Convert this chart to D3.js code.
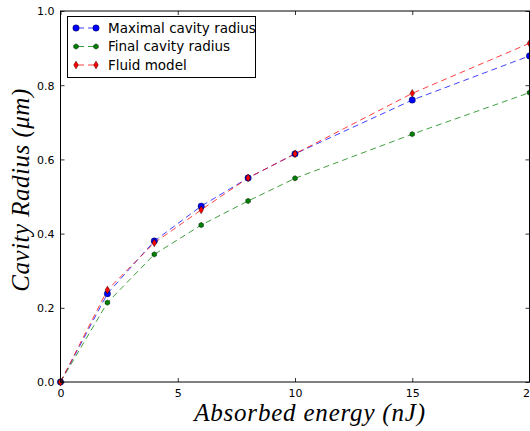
<!DOCTYPE html>
<html><head><meta charset="utf-8">
<script src="https://cdn.jsdelivr.net/npm/d3@7"></script>
<style>body{margin:0;background:#fff;overflow:hidden}</style>
</head><body>
<svg id="c" width="530" height="431"></svg>
<script>
const energy = [0, 2, 4, 6, 8, 10, 15, 20];
const maximalRadius = [0, 0.238, 0.38, 0.474, 0.55, 0.615, 0.76, 0.879];
const finalRadius = [0, 0.214, 0.344, 0.423, 0.488, 0.549, 0.668, 0.78];
const fluidModel = [0, 0.248, 0.375, 0.464, 0.55, 0.615, 0.778, 0.913];
const xTicks = [0, 5, 10, 15, 20];
const yTicks = [0, 0.2, 0.4, 0.6, 0.8, 1.0];
const seriesNames = ["Maximal cavity radius", "Final cavity radius", "Fluid model"];

const svg = d3.select("#c");
const L = 60.5, R = 529.5, T = 11, B = 382;
const x = d3.scaleLinear().domain([0, 20]).range([L, R]);
const y = d3.scaleLinear().domain([0, 1]).range([B, T]);

const series = [
  {name: seriesNames[0], vals: maximalRadius, color: "#0000ff", marker: "circle", r: 3.2},
  {name: seriesNames[1], vals: finalRadius, color: "#007f00", marker: "hex", r: 2.7},
  {name: seriesNames[2], vals: fluidModel, color: "#ff0000", marker: "diamond", r: 3.9}
];

function markerPath(type, r) {
  if (type === "circle") return d3.symbol(d3.symbolCircle, Math.PI * r * r)();
  if (type === "diamond") return `M0,${-r}L${r*0.6},0L0,${r}L${-r*0.6},0Z`;
  let p = [];
  for (let i = 0; i < 6; i++) { const a = Math.PI / 3 * i - Math.PI / 2; p.push([r * Math.cos(a), r * Math.sin(a)]); }
  return "M" + p.map(d => d.join(",")).join("L") + "Z";
}

const line = d3.line().x(d => x(d[0])).y(d => y(d[1]));
series.forEach(s => {
  const pts = energy.map((e, i) => [e, s.vals[i]]);
  svg.append("path").attr("d", line(pts)).attr("fill", "none")
    .attr("stroke", s.color).attr("stroke-width", 1).attr("stroke-dasharray", "6,4").attr("opacity", 0.75);
});
series.forEach(s => {
  energy.forEach((e, i) => {
    svg.append("path").attr("d", markerPath(s.marker, s.r))
      .attr("transform", `translate(${x(e)},${y(s.vals[i])})`)
      .attr("fill", s.color).attr("stroke", "#000").attr("stroke-width", 0.4);
  });
});

svg.append("rect").attr("x", L).attr("y", T).attr("width", R - L).attr("height", B - T)
  .attr("fill", "none").attr("stroke", "#000").attr("stroke-width", 1);

const ax = d3.axisBottom(x).tickValues(xTicks).tickSize(-4).tickPadding(7).tickFormat(d3.format("d"));
const gx = svg.append("g").attr("transform", `translate(0,${B})`).call(ax);
const gxt = svg.append("g").attr("transform", `translate(0,${T})`).call(d3.axisTop(x).tickValues(xTicks).tickSize(-4).tickFormat(""));
const ay = d3.axisLeft(y).tickValues(yTicks).tickSize(-4).tickPadding(6).tickFormat(d3.format(".1f"));
const gy = svg.append("g").attr("transform", `translate(${L},0)`).call(ay);
const gyr = svg.append("g").attr("transform", `translate(${R},0)`).call(d3.axisRight(y).tickValues(yTicks).tickSize(-4).tickFormat(""));
[gx, gxt, gy, gyr].forEach(g => {
  g.select(".domain").remove();
  g.selectAll("line").attr("stroke", "#000").attr("stroke-width", 0.8);
  g.selectAll("text").attr("font-family", "DejaVu Sans").attr("font-size", 11).attr("fill", "#000");
});
gy.selectAll("text").attr("dy", "0.35em");

svg.append("text").attr("x", 310).attr("y", 421).attr("text-anchor", "middle")
  .attr("font-family", "Liberation Serif").attr("font-style", "italic").attr("font-size", 25)
  .attr("letter-spacing", 0.8)
  .text("Absorbed energy (nJ)");
svg.append("text").attr("transform", "translate(29,190) rotate(-90)").attr("text-anchor", "middle")
  .attr("font-family", "Liberation Serif").attr("font-style", "italic").attr("font-size", 25)
  .attr("letter-spacing", 0.5)
  .text("Cavity Radius (μm)");

const lg = svg.append("g");
lg.append("rect").attr("x", 67.5).attr("y", 16.5).attr("width", 188).attr("height", 61)
  .attr("fill", "#fff").attr("stroke", "#000").attr("stroke-width", 1);
series.forEach((s, i) => {
  const yy = 28 + i * 18.5;
  lg.append("line").attr("x1", 76).attr("x2", 96).attr("y1", yy).attr("y2", yy)
    .attr("stroke", s.color).attr("stroke-dasharray", "6,4").attr("stroke-dashoffset", -2).attr("opacity", 0.75);
  [76, 96].forEach(px => lg.append("path").attr("d", markerPath(s.marker, s.r))
    .attr("transform", `translate(${px},${yy})`).attr("fill", s.color).attr("stroke", "#000").attr("stroke-width", 0.4));
  lg.append("text").attr("x", 108).attr("y", yy).attr("dy", "0.35em")
    .attr("font-family", "DejaVu Sans").attr("font-size", 13.5).attr("fill", "#000").text(s.name);
});
</script>
</body></html>
